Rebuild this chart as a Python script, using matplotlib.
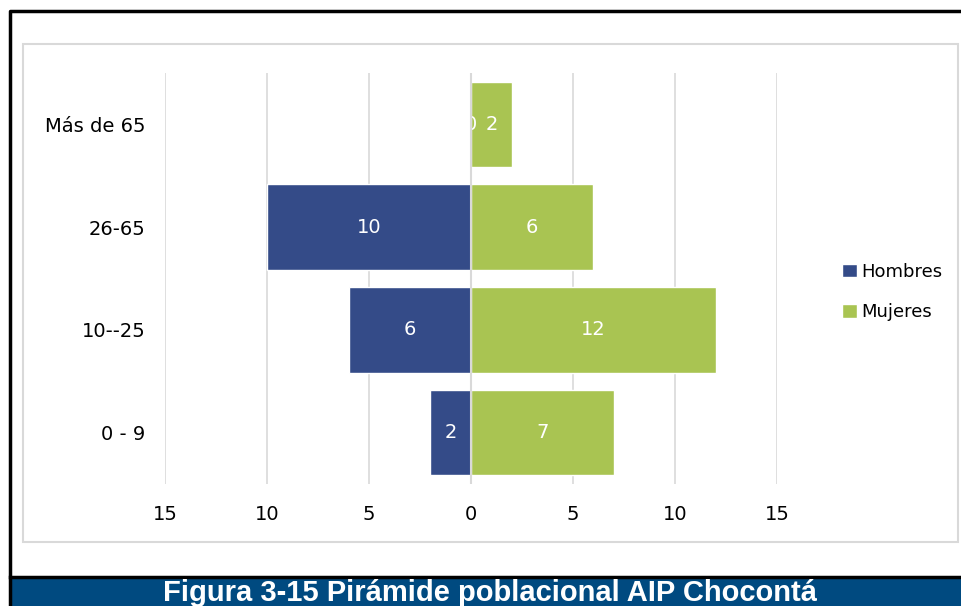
import matplotlib.pyplot as plt
from matplotlib.patches import Rectangle
import numpy as np

grupos = ['0 - 9', '10--25', '26-65', 'Más de 65']
hombres = [2, 6, 10, 0]
mujeres = [7, 12, 6, 2]
ticks = [-15, -10, -5, 0, 5, 10, 15]

AZUL = '#344B88'
VERDE = '#A9C452'
GRIS = '#D9D9D9'
FUENTE = 'DejaVu Sans'

fig = plt.figure(figsize=(9.61, 6.06), dpi=100)

# background layer in pixel coordinates: frame, chart box, caption bar
bg = fig.add_axes([0, 0, 1, 1])
bg.set_xlim(0, 961)
bg.set_ylim(606, 0)
bg.axis('off')
bg.plot([10, 10, 961], [606, 11, 11], color='black', lw=2.5)
bg.plot([10, 961], [577, 577], color='black', lw=2.5)
bg.add_patch(Rectangle((23, 44), 935, 498, fill=False, ec=GRIS, lw=1.5))
bg.add_patch(Rectangle((11, 578), 950, 30, color='#004A80', lw=0))
bg.text(490, 601, 'Figura 3-15 Pirámide poblacional AIP Chocontá',
        ha='center', va='baseline', color='white', fontsize=21,
        fontweight='bold', family='Liberation Sans')

ax = fig.add_axes([165 / 961, (606 - 484) / 606, 612 / 961, 411 / 606])
y = np.arange(len(grupos))
neg = [-v for v in hombres]

bh = ax.barh(y, neg, height=0.83, color=AZUL, edgecolor='white', lw=1,
             zorder=1, label='Hombres')
bm = ax.barh(y, mujeres, height=0.83, color=VERDE, edgecolor='white', lw=1,
             zorder=2, label='Mujeres')

for i, v in enumerate(hombres):
    ax.text(-v / 2, i, str(v), ha='center', va='center', color='white',
            fontsize=14, family=FUENTE, zorder=3)
for i, v in enumerate(mujeres):
    ax.text(v / 2, i, str(v), ha='center', va='center', color='white',
            fontsize=14, family=FUENTE, zorder=3)

ax.set_xlim(-15, 15)
ax.set_ylim(-0.5, 3.5)
ax.set_xticks(ticks)
ax.set_xticklabels([str(abs(t)) for t in ticks], family=FUENTE, fontsize=14)
ax.set_yticks(y)
ax.set_yticklabels(grupos, family=FUENTE, fontsize=14)
ax.tick_params(length=0)
ax.tick_params(axis='x', pad=15)
ax.tick_params(axis='y', pad=14)
ax.xaxis.grid(True, color=GRIS, lw=1.2, zorder=0)
ax.set_axisbelow(True)
ax.axvline(0, color=GRIS, lw=1.5, zorder=4)
for s in ax.spines.values():
    s.set_visible(False)

fig.legend(handles=[bh, bm], loc='center left',
           bbox_to_anchor=(826 / 961, (606 - 292) / 606), frameon=False,
           prop={'family': FUENTE, 'size': 13}, handlelength=0.8,
           handleheight=0.8, handletextpad=0.25, labelspacing=1.25)

fig.savefig('out.png', dpi=100)
